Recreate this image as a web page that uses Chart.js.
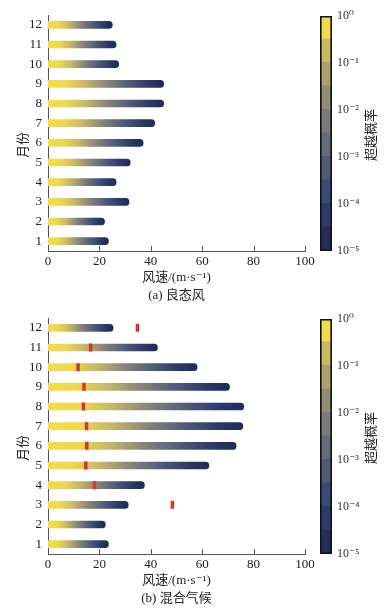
<!DOCTYPE html>
<html><head><meta charset="utf-8">
<script src="https://cdn.jsdelivr.net/npm/chart.js@4"></script>
<style>
body{margin:0;background:#fff;}
#page{position:relative;width:392px;height:608px;overflow:hidden;}
.panel{position:absolute;left:0;width:392px;height:304px;}
.panel canvas{position:absolute;top:0;}
.vt{position:absolute;width:90px;text-align:center;font:13px 'Noto Sans CJK SC',sans-serif;color:#222;transform:rotate(-90deg);transform-origin:50% 50%;line-height:18px;height:18px;}
.cbt{left:325px;top:126px;}
.yt{left:-23px;top:136px;}
.probe{position:absolute;left:-200px;top:0;font:13px 'Liberation Serif';}
</style></head>
<body><div id="page">
<div class="probe">0123 10⁻¹</div>
<div class="panel" style="top:0"><canvas id="m1" width="392" height="304" style="left:0"></canvas><canvas id="c1" width="92" height="304" style="left:300px"></canvas><div class="vt cbt">超越概率</div><div class="vt yt">月份</div></div>
<div class="panel" style="top:303px"><canvas id="m2" width="392" height="304" style="left:0"></canvas><canvas id="c2" width="92" height="304" style="left:300px"></canvas><div class="vt cbt">超越概率</div><div class="vt yt">月份</div></div>
</div>
<script>
// Months (bottom to top: 1..12)
const months = ['1','2','3','4','5','6','7','8','9','10','11','12'];
// Panel (a) 良态风: maximum wind speed per month (m/s)
const normalMax = [23.5, 22, 31.5, 26.5, 32, 37, 41.5, 45, 45, 27.5, 26.5, 25];
// Panel (b) 混合气候: maximum wind speed per month (m/s)
const mixedMax = [23.5, 22.3, 31.2, 37.5, 62.6, 73.2, 75.8, 76.2, 70.6, 58, 42.6, 25.3];
// Panel (b) red markers (month, wind speed)
const markerMonths = ['3','4','5','6','7','8','9','10','11','12'];
const markerSpeed = [48.4, 18.1, 14.7, 15.1, 15, 13.8, 14, 11.7, 16.6, 34.8];
// x-axis ticks
const xTicks = [0, 20, 40, 60, 80, 100];
// Colorbar: exceedance probability decades
const cbExponents = [-5, -4, -3, -2, -1, 0];
const cbColors = ['#252d58','#2c3a6c','#3a4a78','#4f5a76','#646c79','#7a7b7a','#918b74','#aca16a','#cbb95e','#f1da4c'];

const SERIF = "'Liberation Serif','Times New Roman','DejaVu Serif','Noto Sans CJK SC',serif";
const AX = '#555';

const insideTicks = {
  id:'insideTicks',
  afterDraw(chart){
    const xs = chart.scales.x, a = chart.chartArea, c = chart.ctx;
    c.save(); c.strokeStyle = AX; c.lineWidth = 1;
    xTicks.forEach(v=>{
      const px = Math.round(xs.getPixelForValue(v)) + 0.5;
      c.beginPath(); c.moveTo(px, a.bottom); c.lineTo(px, a.bottom - 5); c.stroke();
    });
    c.restore();
  }
};

function barGradient(ctx){
  const chart = ctx.chart;
  if(!chart.chartArea) return '#888';
  const xs = chart.scales.x;
  const v = ctx.raw;
  const x0 = xs.getPixelForValue(0), x1 = xs.getPixelForValue(v);
  const g = chart.ctx.createLinearGradient(x0, 0, x1, 0);
  g.addColorStop(0, '#f3dd45');
  g.addColorStop(0.16, '#efd84c');
  g.addColorStop(0.32, '#c9b866');
  g.addColorStop(0.52, '#84827b');
  g.addColorStop(0.72, '#4c5877');
  g.addColorStop(0.88, '#2b3868');
  g.addColorStop(1, '#1f2a56');
  return g;
}

function mainChart(id, values, caption, markers){
  const datasets = [];
  if(markers){
    datasets.push({
      type:'line', indexAxis:'y', order:0, showLine:false,
      data: markers.months.map((m,i)=>({x:markers.speed[i], y:m})),
      pointStyle:'line', rotation:90, pointRadius:4, pointHoverRadius:4,
      pointBorderWidth:3.5, pointBorderColor:'#d8332f', borderColor:'#d8332f'
    });
  }
  datasets.push({
    type:'bar', order:1, data: values, backgroundColor: barGradient,
    barThickness:7, borderRadius:3.5, borderSkipped:'start', borderWidth:0
  });
  return new Chart(document.getElementById(id), {
    type:'bar',
    data:{ labels: months, datasets },
    plugins:[insideTicks],
    options:{
      indexAxis:'y', responsive:false, animation:false, devicePixelRatio:1,
      layout:{padding:{top:15, right:87, left:0, bottom:0}},
      plugins:{legend:{display:false}, tooltip:{enabled:false}},
      scales:{
        x:{
          type:'linear', min:0, max:100,
          afterBuildTicks(s){ s.ticks = xTicks.map(v=>({value:v})); },
          ticks:{font:{family:SERIF,size:13}, color:'#222', padding:3},
          grid:{display:false, drawTicks:false},
          border:{display:true, color:AX, width:1},
          title:{display:true, text:['风速/(m·s⁻¹)', caption], font:{family:SERIF,size:13,lineHeight:1.35}, color:'#222', padding:{top:1,bottom:0}},
          afterFit(s){ s.height = 53; }
        },
        y:{
          type:'category', reverse:true, offset:true,
          grid:{display:false, drawTicks:false},
          border:{display:true, color:AX, width:1},
          ticks:{font:{family:SERIF,size:13}, color:'#222', padding:6},
          title:{display:false},
          afterFit(s){ s.width = 48; }
        }
      }
    }
  });
}

const SUP = {'0':'⁰','1':'¹','2':'²','3':'³','4':'⁴','5':'⁵','6':'⁶','7':'⁷','8':'⁸','9':'⁹','-':'⁻'};
function colorbar(id){
  const n = cbColors.length;
  const lo = cbExponents[0], hi = cbExponents[cbExponents.length-1];
  const step = (hi - lo) / n;
  const datasets = cbColors.map((c,i)=>({
    data:[[Math.pow(10, lo + i*step), Math.pow(10, lo + (i+1)*step)]],
    backgroundColor:c, borderColor:c, borderWidth:0, inflateAmount:1, order:1,
    grouped:false, barPercentage:1, categoryPercentage:1
  }));
  datasets.push({
    data:[[Math.pow(10,lo), Math.pow(10,hi)]], backgroundColor:'rgba(0,0,0,0)', order:0,
    borderColor:'#111', borderWidth:1.6, borderSkipped:false, inflateAmount:0, grouped:false, barPercentage:1, categoryPercentage:1
  });
  return new Chart(document.getElementById(id), {
    type:'bar',
    data:{labels:['p'], datasets},
    options:{
      responsive:false, animation:false, devicePixelRatio:1,
      layout:{padding:{left:20, top:16, bottom:53, right:0}},
      plugins:{legend:{display:false}, tooltip:{enabled:false}},
      scales:{
        x:{display:false},
        y:{
          type:'logarithmic', position:'right', min:Math.pow(10,lo), max:Math.pow(10,hi),
          afterBuildTicks(s){ s.ticks = cbExponents.map(e=>({value:Math.pow(10,e)})); },
          ticks:{font:{family:SERIF,size:12}, color:'#333', padding:5,
            callback(v){ const e = String(Math.round(Math.log10(v))); return '10' + e.split('').map(ch=>SUP[ch]).join(''); }},
          grid:{display:false, drawTicks:false},
          border:{display:false},
          afterFit(s){ s.width = 60; }
        }
      }
    }
  });
}

function drawAll(){
  mainChart('m1', normalMax, '(a) 良态风', null);
  colorbar('c1');
  mainChart('m2', mixedMax, '(b) 混合气候', {months:markerMonths, speed:markerSpeed});
  colorbar('c2');
}
let done = false;
function go(){ if(done) return; done = true; drawAll(); }
Promise.all([
  document.fonts.load("13px 'Liberation Serif'"),
  document.fonts.load("13px 'Noto Sans CJK SC'", '风速')
]).then(go, go);
setTimeout(go, 800);
</script>
</body></html>
